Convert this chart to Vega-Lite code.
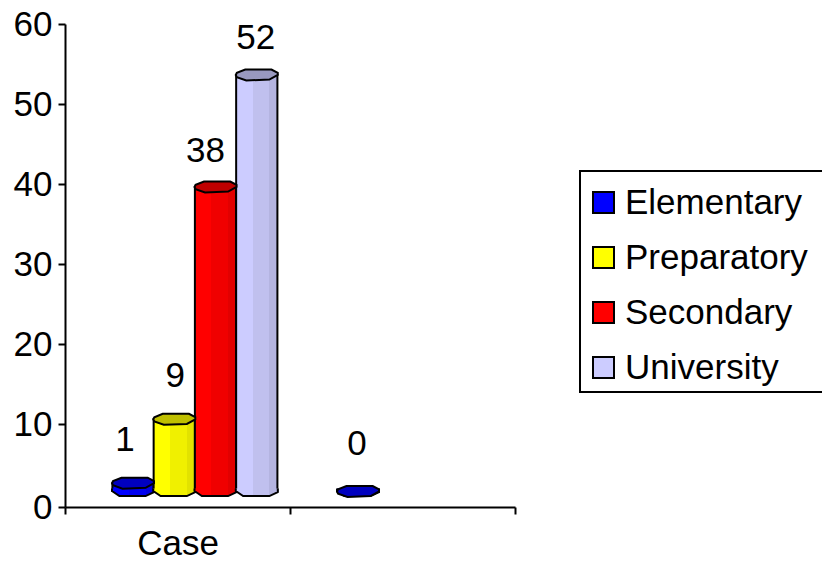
{
  "$schema": "https://vega.github.io/schema/vega-lite/v6.json",
  "width": 450,
  "height": 483,
  "autosize": {"type": "none"},
  "padding": {"left": 65, "top": 24, "right": 307, "bottom": 56},
  "background": "white",
  "config": {
    "view": {"stroke": null},
    "font": "Liberation Sans",
    "legend": {"strokeWidth": 2},
    "axis": {"domainColor": "black", "tickColor": "black", "domainWidth": 2, "tickWidth": 2, "labelColor": "black", "labelFontSize": 35, "labelFont": "Liberation Sans", "grid": false, "title": null}
  },
  "data": {
    "values": [
      {"category": "Case", "level": "Elementary", "count": 1},
      {"category": "Case", "level": "Preparatory", "count": 9},
      {"category": "Case", "level": "Secondary", "count": 38},
      {"category": "Case", "level": "University", "count": 52},
      {"category": " ", "level": "Elementary", "count": 0}
    ]
  },
  "encoding": {
    "x": {
      "field": "category", "type": "nominal", "sort": ["Case", " "],
      "scale": {"domain": ["Case", " "], "paddingInner": 0, "paddingOuter": 0},
      "axis": {"tickBand": "extent", "labelAngle": 0, "tickSize": 7, "labelPadding": 12, "title": null}
    },
    "xOffset": {
      "field": "level", "type": "nominal",
      "scale": {"domain": ["Elementary", "Preparatory", "Secondary", "University"], "paddingInner": 0, "paddingOuter": 0.727, "align": 0.79}
    },
    "y": {
      "field": "count", "type": "quantitative",
      "scale": {"domain": [0, 10, 60], "range": [483, 400, 0], "nice": false},
      "axis": {"values": [0, 10, 20, 30, 40, 50, 60], "tickSize": 7, "labelPadding": 6, "title": null}
    }
  },
  "layer": [
    {
      "transform": [{"filter": "datum.level === 'Elementary'"}],
      "mark": {"type": "bar", "yOffset": -15.5, "y2Offset": -16, "stroke": "black", "strokeWidth": 2,
        "fill": {"gradient": "linear", "x1": 0, "x2": 1, "y1": 0, "y2": 0, "stops": [{"offset": 0, "color": "#0000ff"}, {"offset": 0.4, "color": "#0000ff"}, {"offset": 0.4, "color": "#0000f0"}, {"offset": 0.8, "color": "#0000f0"}, {"offset": 0.8, "color": "#0000e0"}, {"offset": 1, "color": "#0000e0"}]}},
      "encoding": {"y2": {"datum": 0}}
    },
    {
      "transform": [{"filter": "datum.level === 'Elementary'"}],
      "mark": {"type": "point", "filled": true, "opacity": 1, "yOffset": -16, "size": 1764, "stroke": "black", "strokeWidth": 2, "shape": "M-1,-0.12 L-1,0 L-0.65,0.24 L0.6,0.24 L1,0.05 L1,-0.12",
        "fill": {"gradient": "linear", "x1": 0, "x2": 1, "y1": 0, "y2": 0, "stops": [{"offset": 0, "color": "#0000ff"}, {"offset": 0.4, "color": "#0000ff"}, {"offset": 0.4, "color": "#0000f0"}, {"offset": 0.8, "color": "#0000f0"}, {"offset": 0.8, "color": "#0000e0"}, {"offset": 1, "color": "#0000e0"}]}},
      "encoding": {"y": {"datum": 0}}
    },
    {
      "transform": [{"filter": "datum.level === 'Preparatory'"}],
      "mark": {"type": "bar", "yOffset": -13, "y2Offset": -16, "stroke": "black", "strokeWidth": 2,
        "fill": {"gradient": "linear", "x1": 0, "x2": 1, "y1": 0, "y2": 0, "stops": [{"offset": 0, "color": "#ffff00"}, {"offset": 0.4, "color": "#ffff00"}, {"offset": 0.4, "color": "#f0f000"}, {"offset": 0.8, "color": "#f0f000"}, {"offset": 0.8, "color": "#e2e200"}, {"offset": 1, "color": "#e2e200"}]}},
      "encoding": {"y2": {"datum": 0}}
    },
    {
      "transform": [{"filter": "datum.level === 'Preparatory'"}],
      "mark": {"type": "point", "filled": true, "opacity": 1, "yOffset": -16, "size": 1764, "stroke": "black", "strokeWidth": 2, "shape": "M-1,-0.12 L-1,0 L-0.65,0.24 L0.6,0.24 L1,0.05 L1,-0.12",
        "fill": {"gradient": "linear", "x1": 0, "x2": 1, "y1": 0, "y2": 0, "stops": [{"offset": 0, "color": "#ffff00"}, {"offset": 0.4, "color": "#ffff00"}, {"offset": 0.4, "color": "#f0f000"}, {"offset": 0.8, "color": "#f0f000"}, {"offset": 0.8, "color": "#e2e200"}, {"offset": 1, "color": "#e2e200"}]}},
      "encoding": {"y": {"datum": 0}}
    },
    {
      "transform": [{"filter": "datum.level === 'Secondary'"}],
      "mark": {"type": "bar", "yOffset": -13, "y2Offset": -16, "stroke": "black", "strokeWidth": 2,
        "fill": {"gradient": "linear", "x1": 0, "x2": 1, "y1": 0, "y2": 0, "stops": [{"offset": 0, "color": "#ff0000"}, {"offset": 0.4, "color": "#ff0000"}, {"offset": 0.4, "color": "#f00000"}, {"offset": 0.8, "color": "#f00000"}, {"offset": 0.8, "color": "#e20000"}, {"offset": 1, "color": "#e20000"}]}},
      "encoding": {"y2": {"datum": 0}}
    },
    {
      "transform": [{"filter": "datum.level === 'Secondary'"}],
      "mark": {"type": "point", "filled": true, "opacity": 1, "yOffset": -16, "size": 1764, "stroke": "black", "strokeWidth": 2, "shape": "M-1,-0.12 L-1,0 L-0.65,0.24 L0.6,0.24 L1,0.05 L1,-0.12",
        "fill": {"gradient": "linear", "x1": 0, "x2": 1, "y1": 0, "y2": 0, "stops": [{"offset": 0, "color": "#ff0000"}, {"offset": 0.4, "color": "#ff0000"}, {"offset": 0.4, "color": "#f00000"}, {"offset": 0.8, "color": "#f00000"}, {"offset": 0.8, "color": "#e20000"}, {"offset": 1, "color": "#e20000"}]}},
      "encoding": {"y": {"datum": 0}}
    },
    {
      "transform": [{"filter": "datum.level === 'University'"}],
      "mark": {"type": "bar", "yOffset": -13, "y2Offset": -16, "stroke": "black", "strokeWidth": 2,
        "fill": {"gradient": "linear", "x1": 0, "x2": 1, "y1": 0, "y2": 0, "stops": [{"offset": 0, "color": "#ccccff"}, {"offset": 0.4, "color": "#ccccff"}, {"offset": 0.4, "color": "#c0c0ee"}, {"offset": 0.8, "color": "#c0c0ee"}, {"offset": 0.8, "color": "#b4b4e0"}, {"offset": 1, "color": "#b4b4e0"}]}},
      "encoding": {"y2": {"datum": 0}}
    },
    {
      "transform": [{"filter": "datum.level === 'University'"}],
      "mark": {"type": "point", "filled": true, "opacity": 1, "yOffset": -16, "size": 1764, "stroke": "black", "strokeWidth": 2, "shape": "M-1,-0.12 L-1,0 L-0.65,0.24 L0.6,0.24 L1,0.05 L1,-0.12",
        "fill": {"gradient": "linear", "x1": 0, "x2": 1, "y1": 0, "y2": 0, "stops": [{"offset": 0, "color": "#ccccff"}, {"offset": 0.4, "color": "#ccccff"}, {"offset": 0.4, "color": "#c0c0ee"}, {"offset": 0.8, "color": "#c0c0ee"}, {"offset": 0.8, "color": "#b4b4e0"}, {"offset": 1, "color": "#b4b4e0"}]}},
      "encoding": {"y": {"datum": 0}}
    },
    {
      "transform": [{"filter": "datum.level !== 'Elementary'"}],
      "mark": {"type": "point", "filled": true, "opacity": 1, "yOffset": -13, "size": 1764, "stroke": "black", "strokeWidth": 2, "shape": "M-1,0 L-0.95,-0.1 L-0.55,-0.26 L0.7,-0.26 L1,-0.1 L1,0 L0.6,0.22 L-0.5,0.26 L-0.95,0.1 Z"},
      "encoding": {
        "color": {
          "field": "level", "type": "nominal",
          "scale": {"domain": ["Elementary", "Preparatory", "Secondary", "University"], "range": ["#0000ff", "#ffff00", "#ff0000", "#ccccff"]},
          "legend": {
            "title": " ", "titleFontSize": 1, "titlePadding": 7, "orient": "none", "legendX": 515, "legendY": 147,
            "symbolType": "square", "symbolSize": 441, "symbolStrokeColor": "black", "symbolStrokeWidth": 2, "symbolOpacity": 1,
            "labelFontSize": 35, "labelFont": "Liberation Sans", "labelColor": "black", "labelLimit": 300, "labelOffset": 4,
            "labelExpr": "datum.label + '\u00a0\u200b'",
            "rowPadding": 19, "padding": 6, "strokeColor": "black"
          }
        }
      }
    },
    {
      "transform": [{"filter": "datum.level === 'Elementary'"}],
      "mark": {"type": "point", "filled": true, "opacity": 1, "yOffset": -15.5, "size": 1764, "stroke": "black", "strokeWidth": 2, "shape": "M-1,0 L-0.95,-0.1 L-0.55,-0.26 L0.7,-0.26 L1,-0.1 L1,0 L0.6,0.22 L-0.5,0.26 L-0.95,0.1 Z"},
      "encoding": {
        "color": {
          "field": "level", "type": "nominal",
          "scale": {"domain": ["Elementary", "Preparatory", "Secondary", "University"], "range": ["#0000ff", "#ffff00", "#ff0000", "#ccccff"]}
        }
      }
    },
    {
      "transform": [{"filter": "datum.level !== 'Elementary'"}],
      "mark": {"type": "point", "filled": true, "fill": "black", "opacity": 0.25, "strokeOpacity": 0, "yOffset": -13, "size": 1764, "shape": "M-1,0 L-0.95,-0.1 L-0.55,-0.26 L0.7,-0.26 L1,-0.1 L1,0 L0.6,0.22 L-0.5,0.26 L-0.95,0.1 Z"}
    },
    {
      "transform": [{"filter": "datum.level === 'Elementary'"}],
      "mark": {"type": "point", "filled": true, "fill": "black", "opacity": 0.25, "strokeOpacity": 0, "yOffset": -15.5, "size": 1764, "shape": "M-1,0 L-0.95,-0.1 L-0.55,-0.26 L0.7,-0.26 L1,-0.1 L1,0 L0.6,0.22 L-0.5,0.26 L-0.95,0.1 Z"}
    },
    {
      "transform": [{"filter": "datum.level === 'University'"}],
      "mark": {"type": "text", "fontSize": 35, "font": "Liberation Sans", "color": "black", "baseline": "middle", "dy": -50, "dx": -1},
      "encoding": {"text": {"field": "count", "type": "quantitative"}}
    },
    {
      "transform": [{"filter": "datum.level === 'Secondary'"}],
      "mark": {"type": "text", "fontSize": 35, "font": "Liberation Sans", "color": "black", "baseline": "middle", "dy": -49, "dx": -10},
      "encoding": {"text": {"field": "count", "type": "quantitative"}}
    },
    {
      "transform": [{"filter": "datum.level === 'Preparatory'"}],
      "mark": {"type": "text", "fontSize": 35, "font": "Liberation Sans", "color": "black", "baseline": "middle", "dy": -56, "dx": 1},
      "encoding": {"text": {"field": "count", "type": "quantitative"}}
    },
    {
      "transform": [{"filter": "datum.level === 'Elementary' && datum.count > 0"}],
      "mark": {"type": "text", "fontSize": 35, "font": "Liberation Sans", "color": "black", "baseline": "middle", "dy": -59, "dx": -8},
      "encoding": {"text": {"field": "count", "type": "quantitative"}}
    },
    {
      "transform": [{"filter": "datum.level === 'Elementary' && datum.count === 0"}],
      "mark": {"type": "text", "fontSize": 35, "font": "Liberation Sans", "color": "black", "baseline": "middle", "dy": -63, "dx": -1},
      "encoding": {"text": {"field": "count", "type": "quantitative"}}
    }
  ]
}
